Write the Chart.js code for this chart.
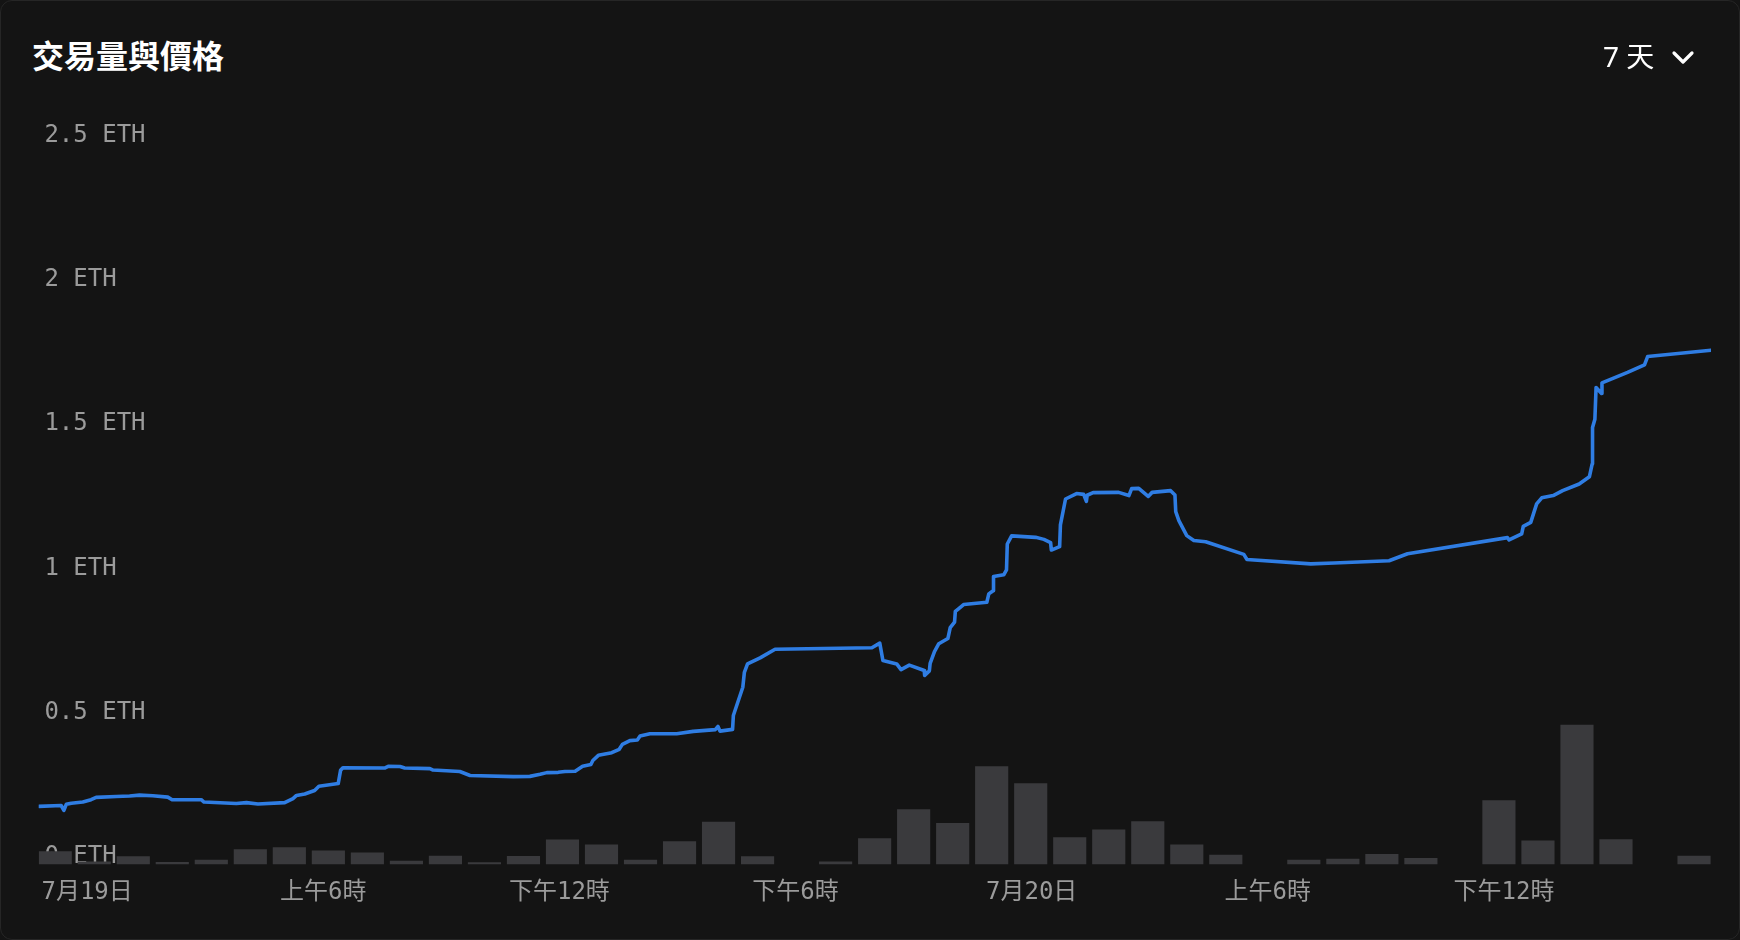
<!DOCTYPE html>
<html lang="zh-Hant">
<head>
<meta charset="utf-8">
<title>交易量與價格</title>
<script src="https://cdn.jsdelivr.net/npm/chart.js@4/dist/chart.umd.min.js"></script>
<style>
  html, body { margin: 0; padding: 0; background: #141414; }
  .card {
    position: relative;
    width: 1740px;
    height: 940px;
    box-sizing: border-box;
    background: #141414;
    border: 1px solid #262626;
    border-radius: 12px;
    overflow: hidden;
  }
  .title {
    position: absolute;
    left: 31px;
    top: 37px;
    font: 700 32px/1 "Noto Sans CJK TC", "Noto Sans", sans-serif;
    color: #ffffff;
  }
  .range {
    position: absolute;
    left: 1602px;
    top: 41px;
    font: 400 28px/1 "Noto Sans", "Noto Sans CJK TC", sans-serif;
    color: #ffffff;
    z-index: 2;
  }
  .range svg { position: absolute; left: 68px; top: 8px; }
  #wrap { position: absolute; left: 0; top: 0; width: 1740px; height: 940px; }
</style>
</head>
<body>
<div class="card">
  <div class="title">交易量與價格</div>
  <div class="range">7 天<svg width="24" height="16" viewBox="0 0 24 16"><polyline points="3,3 12,12 21,3" fill="none" stroke="#ffffff" stroke-width="3.2" stroke-linecap="round" stroke-linejoin="round"/></svg></div>
  <div id="wrap"><canvas id="chart"></canvas></div>
</div>
<script>
// x unit: hours since 7/19 00:00
const xTickHours = [0, 6, 12, 18, 24, 30, 36];
const xTickLabels = ['7月19日', '上午6時', '下午12時', '下午6時', '7月20日', '上午6時', '下午12時'];
const yTickValues = [0, 0.5, 1, 1.5, 2, 2.5];
const yTickLabels = ['0 ETH', '0.5 ETH', '1 ETH', '1.5 ETH', '2 ETH', '2.5 ETH'];

const X_MIN = -1.23;
const X_MAX = 41.26;

// average price line
const priceHours = [
  -1.23, -0.66, -0.59, -0.53, -0.40, -0.11, 0.10, 0.23, 0.74, 1.08,
  1.33, 1.67, 2.05, 2.16, 2.90, 2.97, 3.79, 4.05, 4.34, 5.02,
  5.23, 5.32, 5.53, 5.78, 5.89, 6.38, 6.44, 6.50, 7.56, 7.65,
  7.95, 8.07, 8.71, 8.79, 9.47, 9.73, 10.83, 11.25, 11.51, 11.68,
  11.97, 12.14, 12.40, 12.59, 12.80, 12.85, 12.99, 13.33, 13.52, 13.60,
  13.79, 13.98, 14.05, 14.30, 14.98, 15.40, 15.96, 16.03, 16.08, 16.40,
  16.42, 16.66, 16.70, 16.78, 17.10, 17.48, 19.94, 20.14, 20.22, 20.57,
  20.68, 20.89, 21.27, 21.28, 21.40, 21.42, 21.53, 21.64, 21.87, 21.93,
  22.04, 22.06, 22.14, 22.27, 22.86, 22.91, 23.02, 23.03, 23.29, 23.36,
  23.38, 23.49, 24.10, 24.31, 24.48, 24.50, 24.71, 24.73, 24.86, 25.14,
  25.32, 25.39, 25.41, 25.56, 26.21, 26.47, 26.54, 26.72, 26.96, 27.06,
  27.53, 27.64, 27.66, 27.74, 27.94, 28.12, 28.42, 29.39, 29.47, 31.09,
  31.68, 33.08, 33.55, 36.09, 36.13, 36.45, 36.49, 36.68, 36.83, 36.96,
  37.25, 37.49, 37.91, 38.17, 38.24, 38.25, 38.31, 38.34, 38.48, 38.49,
  39.14, 39.57, 39.65, 41.26
];
const priceValues = [
  0.202, 0.205, 0.188, 0.209, 0.213, 0.217, 0.225, 0.233, 0.236, 0.238,
  0.241, 0.239, 0.234, 0.225, 0.225, 0.217, 0.212, 0.215, 0.210, 0.215,
  0.229, 0.240, 0.245, 0.257, 0.272, 0.281, 0.327, 0.336, 0.335, 0.341,
  0.340, 0.335, 0.333, 0.328, 0.323, 0.309, 0.305, 0.306, 0.313, 0.319,
  0.320, 0.323, 0.324, 0.341, 0.347, 0.361, 0.379, 0.388, 0.400, 0.417,
  0.430, 0.432, 0.446, 0.454, 0.454, 0.462, 0.468, 0.479, 0.463, 0.469,
  0.517, 0.615, 0.667, 0.696, 0.717, 0.747, 0.752, 0.768, 0.708, 0.696,
  0.676, 0.692, 0.673, 0.656, 0.672, 0.698, 0.739, 0.766, 0.784, 0.822,
  0.841, 0.878, 0.887, 0.902, 0.910, 0.939, 0.950, 0.999, 1.005, 1.022,
  1.112, 1.140, 1.135, 1.128, 1.117, 1.091, 1.103, 1.178, 1.268, 1.287,
  1.284, 1.260, 1.281, 1.290, 1.291, 1.280, 1.304, 1.305, 1.277, 1.291,
  1.297, 1.282, 1.224, 1.193, 1.141, 1.124, 1.120, 1.076, 1.058, 1.043,
  1.046, 1.054, 1.078, 1.134, 1.126, 1.147, 1.173, 1.187, 1.251, 1.272,
  1.280, 1.297, 1.320, 1.345, 1.389, 1.516, 1.545, 1.655, 1.634, 1.671,
  1.707, 1.733, 1.762, 1.784
];

// hourly volume buckets
const VOLUME_START = -0.81;   // centre of the first bucket
const VOLUME_STEP = 0.9914;
const volumeValues = [
  0.046, 0.011, 0.029, 0.009, 0.017, 0.053, 0.060, 0.049, 0.042, 0.013,
  0.031, 0.008, 0.030, 0.087, 0.070, 0.017, 0.081, 0.149, 0.029, 0,
  0.011, 0.091, 0.192, 0.144, 0.341, 0.282, 0.095, 0.122, 0.150, 0.070,
  0.034, 0, 0.017, 0.020, 0.037, 0.023, 0, 0.223, 0.084, 0.485,
  0.088, 0, 0.031
];

const TICK_FONT = { family: '"DejaVu Sans Mono", "Noto Sans CJK TC", monospace', size: 24 };
const TICK_COLOR = '#9b9b9b';

const pricePoints = priceHours.map((h, i) => ({ x: h, y: priceValues[i] }));
const volumePoints = volumeValues.map((v, i) => ({ x: VOLUME_START + i * VOLUME_STEP, y: v }));

const ctx = document.getElementById('chart').getContext('2d');
new Chart(ctx, {
  data: {
    datasets: [
      {
        type: 'line',
        label: '價格',
        data: pricePoints,
        borderColor: '#2f7de3',
        borderWidth: 3.6,
        borderJoinStyle: 'round',
        borderCapStyle: 'round',
        pointRadius: 0,
        tension: 0,
        order: 0
      },
      {
        type: 'bar',
        label: '交易量',
        data: volumePoints,
        backgroundColor: '#3a3a3d',
        borderWidth: 0,
        barPercentage: 0.85,
        categoryPercentage: 1,
        order: 1
      }
    ]
  },
  options: {
    responsive: true,
    maintainAspectRatio: false,
    animation: false,
    layout: { padding: { left: 26.3, right: 30, top: 142.8, bottom: 19.6 } },
    plugins: {
      legend: { display: false },
      tooltip: { enabled: false },
      title: { display: false }
    },
    scales: {
      x: {
        type: 'linear',
        min: X_MIN,
        max: X_MAX,
        offset: false,
        grid: { display: false, drawTicks: false, offset: false },
        border: { display: false },
        afterBuildTicks: (axis) => { axis.ticks = xTickHours.map(v => ({ value: v })); },
        ticks: {
          autoSkip: false,
          maxRotation: 0,
          padding: 14,
          color: TICK_COLOR,
          font: TICK_FONT,
          callback: (value) => xTickLabels[xTickHours.indexOf(value)]
        }
      },
      y: {
        type: 'linear',
        position: 'left',
        min: 0,
        max: 2.5,
        grid: { display: false, drawTicks: false },
        border: { display: false },
        afterBuildTicks: (axis) => { axis.ticks = yTickValues.map(v => ({ value: v })); },
        ticks: {
          mirror: true,
          padding: 5.7,
          labelOffset: -8,
          color: TICK_COLOR,
          font: TICK_FONT,
          callback: (value) => yTickLabels[yTickValues.indexOf(value)]
        }
      }
    }
  }
});
</script>
</body>
</html>
